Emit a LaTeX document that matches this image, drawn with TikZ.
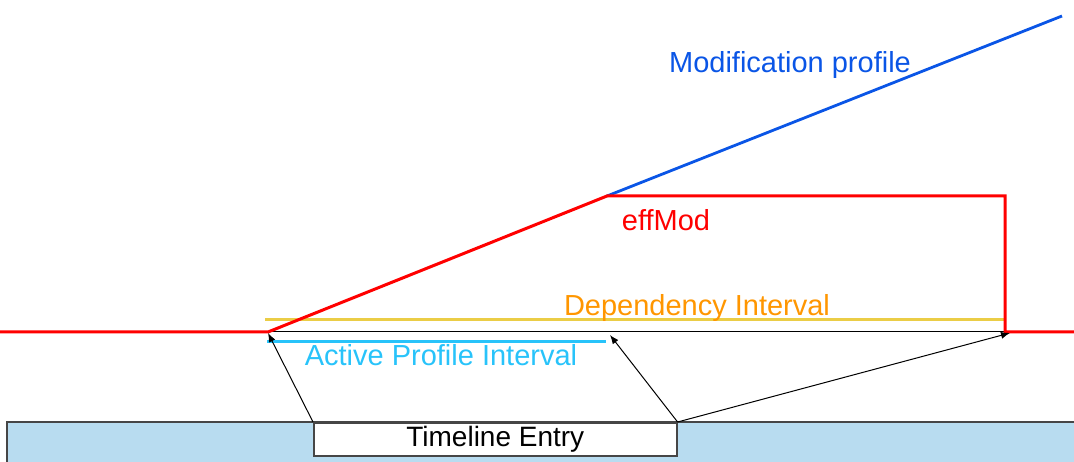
\documentclass[tikz,border=0pt]{standalone}
\usepackage{fontspec}
\setmainfont{Liberation Sans}
\usetikzlibrary{arrows.meta}
\definecolor{profblue}{RGB}{10,85,230}
\definecolor{effred}{RGB}{255,0,0}
\definecolor{depyellow}{RGB}{235,205,70}
\definecolor{deporange}{RGB}{255,150,0}
\definecolor{actcyan}{RGB}{40,195,250}
\definecolor{bandblue}{RGB}{184,220,240}
\definecolor{edgegray}{RGB}{70,70,70}
\tikzset{
  lbl/.style={font=\fontsize{29}{32}\selectfont, inner sep=0pt, anchor=base},
  redline/.style={draw=effred, line width=3pt, line join=miter},
  arr/.style={draw=black, line width=1pt, -{Latex[length=9pt,width=7pt]}},
  entrybox/.style={draw=edgegray, line width=1.6pt, fill=white, minimum width=363pt, minimum height=33pt, anchor=north west, inner sep=0pt, font=\fontsize{28}{30}\selectfont}
}
\begin{document}
\begin{tikzpicture}[x=1pt,y=-1pt]
\useasboundingbox (0,0) rectangle (1074,462);
% band
\fill[bandblue] (7,422) rectangle (1074,462);
\draw[edgegray, line width=1.8pt] (7,462) -- (7,422) -- (1074,422);
% points
\coordinate (l0) at (0,332);
\coordinate (a) at (268,332);
\coordinate (knee) at (607,196);
\coordinate (tr) at (1005,196);
\coordinate (br) at (1005,332);
\coordinate (r0) at (1074,332);
\coordinate (ptop) at (1062,16);
% black baseline
\draw[black, line width=1pt] (a) -- (br);
% yellow dependency
\coordinate (y1) at (265,320);
\coordinate (y2) at (1005,320);
\draw[depyellow, line width=3pt] (y1) -- (y2);
% cyan active
\coordinate (c1) at (267,342);
\coordinate (c2) at (606,342);
\draw[actcyan, line width=3pt] (c1) -- (c2);
% blue profile
\draw[profblue, line width=2.8pt] (knee) -- (ptop);
% red effMod
\draw[redline] (l0) -- (a) -- (knee) -- (tr) -- (br) -- (r0);
% labels (anchored at baseline)
\node[lbl, text=profblue] (modlbl) at (790,73) {Modification profile};
\node[lbl, text=effred] (efflbl) at (666,231) {effMod};
\node[lbl, text=deporange] (deplbl) at (697,316) {Dependency Interval};
\node[lbl, text=actcyan] (actlbl) at (441,366) {Active Profile Interval};
% entry
\node[entrybox] (entry) at (313,422) {Timeline Entry};
% arrow targets
\coordinate (t1) at (268,333);
\coordinate (t2) at (610,335);
\coordinate (t3) at (1010,333);
\draw[arr] (entry.north west) -- (t1);
\draw[arr] (entry.north east) -- (t2);
\draw[arr] (entry.north east) -- (t3);
\end{tikzpicture}
\end{document}
